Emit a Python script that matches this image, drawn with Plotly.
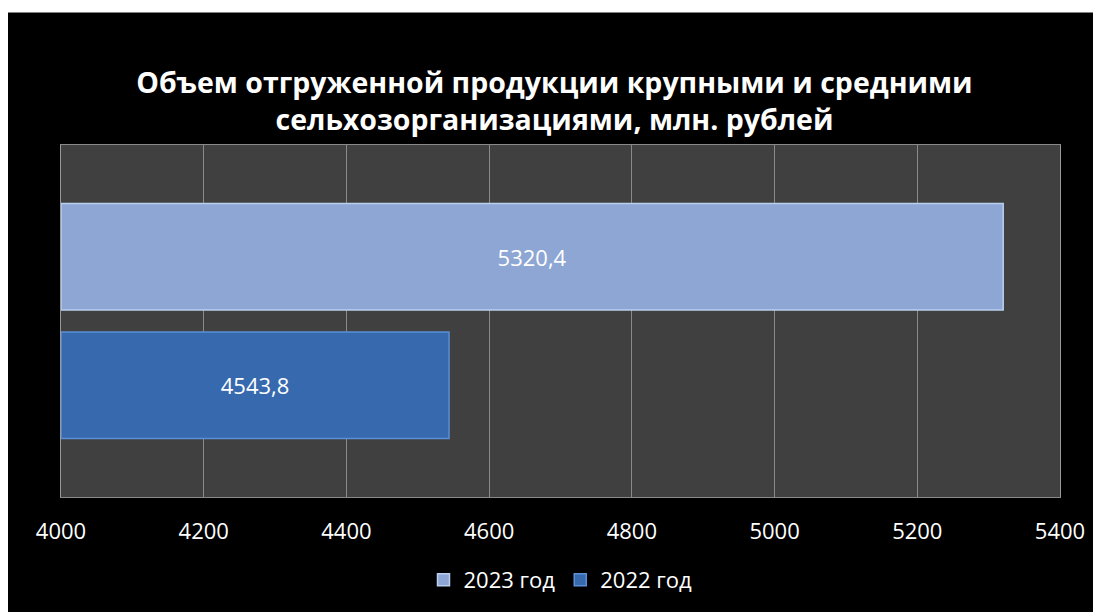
import plotly.graph_objects as go

CATEGORY = [""]
SERIES_NAMES = ["2022 год", "2023 год"]
VALUES_2022 = [4543.8]
VALUES_2023 = [5320.4]
AXIS_MIN, AXIS_MAX = 4000, 5400
TICK_VALUES = [4000, 4200, 4400, 4600, 4800, 5000, 5200, 5400]

TITLE = "Объем отгруженной продукции крупными и средними<br>сельхозорганизациями, млн. рублей"
FONT = "Open Sans, Liberation Sans, sans-serif"

# the page adds an 8px body margin, so the figure is a little smaller than the window
W, H = 1093, 604
M_L, M_R, M_T, M_B = 53, 41, 137, 114
PW = W - M_L - M_R
PH = H - M_T - M_B


def _bar(values, name, color, edge):
    # bars start at the axis minimum, like the Excel chart does
    return go.Bar(
        y=CATEGORY,
        x=[v - AXIS_MIN for v in values],
        base=AXIS_MIN,
        customdata=values,
        name=name,
        orientation="h",
        marker={"color": color, "line": {"color": edge, "width": 1.5}},
        texttemplate="%{customdata:.1f}",
        textposition="inside",
        insidetextanchor="middle",
        textfont={"color": "#ffffff", "size": 22, "family": FONT},
        hovertemplate="%{customdata:.1f}<extra>" + name + "</extra>",
    )


fig = go.Figure()
# 2022 goes first so it sits at the bottom of the group
fig.add_trace(_bar(VALUES_2022, SERIES_NAMES[0], "#3669ae", "#5b8fd6"))
fig.add_trace(_bar(VALUES_2023, SERIES_NAMES[1], "#8ea6d4", "#b8cff0"))

# thin white strip along the top edge of the original picture
fig.add_shape(type="rect", xref="paper", yref="paper",
              x0=-(M_L + 20) / PW, x1=(W - M_L + 20) / PW,
              y0=(H - M_B - 4) / PH, y1=(H - M_B + 20) / PH,
              fillcolor="#ffffff", line={"width": 0}, layer="above")

fig.update_layout(
    width=W,
    height=H,
    margin={"l": M_L, "r": M_R, "t": M_T, "b": M_B},
    paper_bgcolor="#000000",
    plot_bgcolor="#404040",
    separators=", ",
    barmode="group",
    bargap=0.27,
    bargroupgap=0.17,
    font={"family": FONT, "color": "#ffffff", "size": 22},
    title={
        "text": TITLE,
        "x": 0.5,
        "xanchor": "center",
        "y": 1 - 85 / H,
        "yanchor": "middle",
        "font": {"size": 28.5, "color": "#ffffff", "family": FONT, "weight": "bold"},
    },
    legend={
        "orientation": "h",
        "x": 0.5,
        "xanchor": "center",
        "y": -(572 - (H - M_B)) / PH,
        "yanchor": "middle",
        "traceorder": "reversed",
        "font": {"size": 22, "color": "#ffffff"},
        "bgcolor": "rgba(0,0,0,0)",
    },
    showlegend=True,
)
fig.update_xaxes(
    range=[AXIS_MIN, AXIS_MAX],
    tickvals=TICK_VALUES,
    showgrid=True,
    gridcolor="#8a8a8a",
    gridwidth=1,
    zeroline=False,
    showline=True,
    linecolor="#8a8a8a",
    mirror=True,
    ticks="",
    ticklabelstandoff=15,
    tickfont={"size": 22, "color": "#ffffff"},
)
fig.update_yaxes(
    showgrid=False,
    zeroline=False,
    showline=True,
    linecolor="#9a9a9a",
    mirror=True,
    showticklabels=False,
    ticks="",
)

fig.write_html("out.html")
